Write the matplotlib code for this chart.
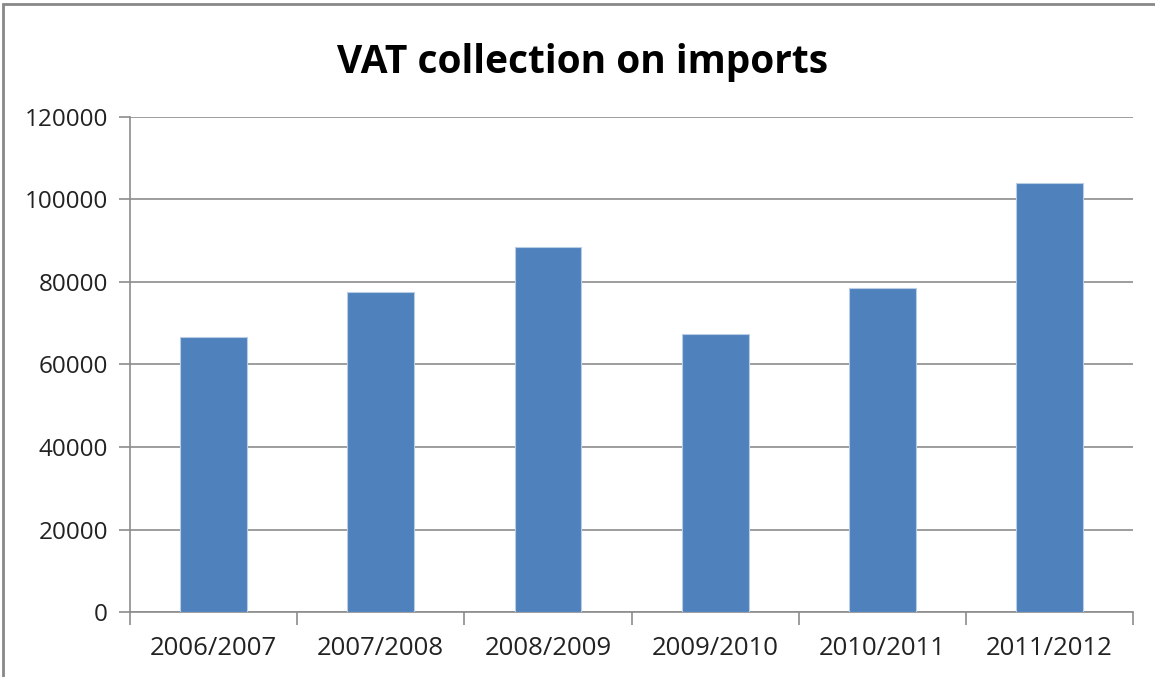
import matplotlib.pyplot as plt
from matplotlib.patches import Rectangle

# dados do grafico
anos = ['2006/2007', '2007/2008', '2008/2009', '2009/2010', '2010/2011', '2011/2012']
valores = [66700, 77600, 88500, 67300, 78500, 103900]
y_ticks = [0, 20000, 40000, 60000, 80000, 100000, 120000]

plt.rcParams['font.family'] = ['Open Sans', 'DejaVu Sans']

fig = plt.figure(figsize=(11.55, 6.77), dpi=100)
ax = fig.add_axes([0.1126, 0.096, 0.981 - 0.1126, 0.8272 - 0.096])

# borda externa do grafico (cortada a direita e embaixo)
fig.patches.append(Rectangle((3 / 1155, -0.05), 1.2, 1 - 4 / 677 + 0.05,
                             transform=fig.transFigure, fill=False,
                             edgecolor='#888888', linewidth=2))

x = range(len(anos))
ax.bar(x, valores, width=0.4, color='#4F81BD', edgecolor='#B9CDE5',
       linewidth=0.8, zorder=3)

ax.set_xlim(-0.5, len(anos) - 0.5)
ax.set_ylim(0, 120000)
ax.set_yticks(y_ticks)
ax.set_yticklabels([str(v) for v in y_ticks])
ax.set_xticks(x)
ax.set_xticklabels(anos)
ax.set_xticks([i - 0.5 for i in range(len(anos) + 1)], minor=True)

ax.grid(axis='y', color='#8C8C8C', linewidth=1.2, zorder=0)
for s in ['top', 'right']:
    ax.spines[s].set_visible(False)
for s in ['left', 'bottom']:
    ax.spines[s].set_color('#8C8C8C')
    ax.spines[s].set_linewidth(1.2)

ax.tick_params(axis='y', length=8, width=1.2, color='#8C8C8C', pad=8,
               labelsize=17.5, labelcolor='#222222')
ax.tick_params(axis='x', which='major', length=0, pad=17,
               labelsize=18.5, labelcolor='#222222')
ax.tick_params(axis='x', which='minor', length=9, width=1.2, color='#8C8C8C')

fig.text(0.504, 0.908, 'VAT collection on imports', ha='center', va='center',
         fontsize=28, fontweight='bold', color='black')

fig.savefig('out.png', dpi=100)
